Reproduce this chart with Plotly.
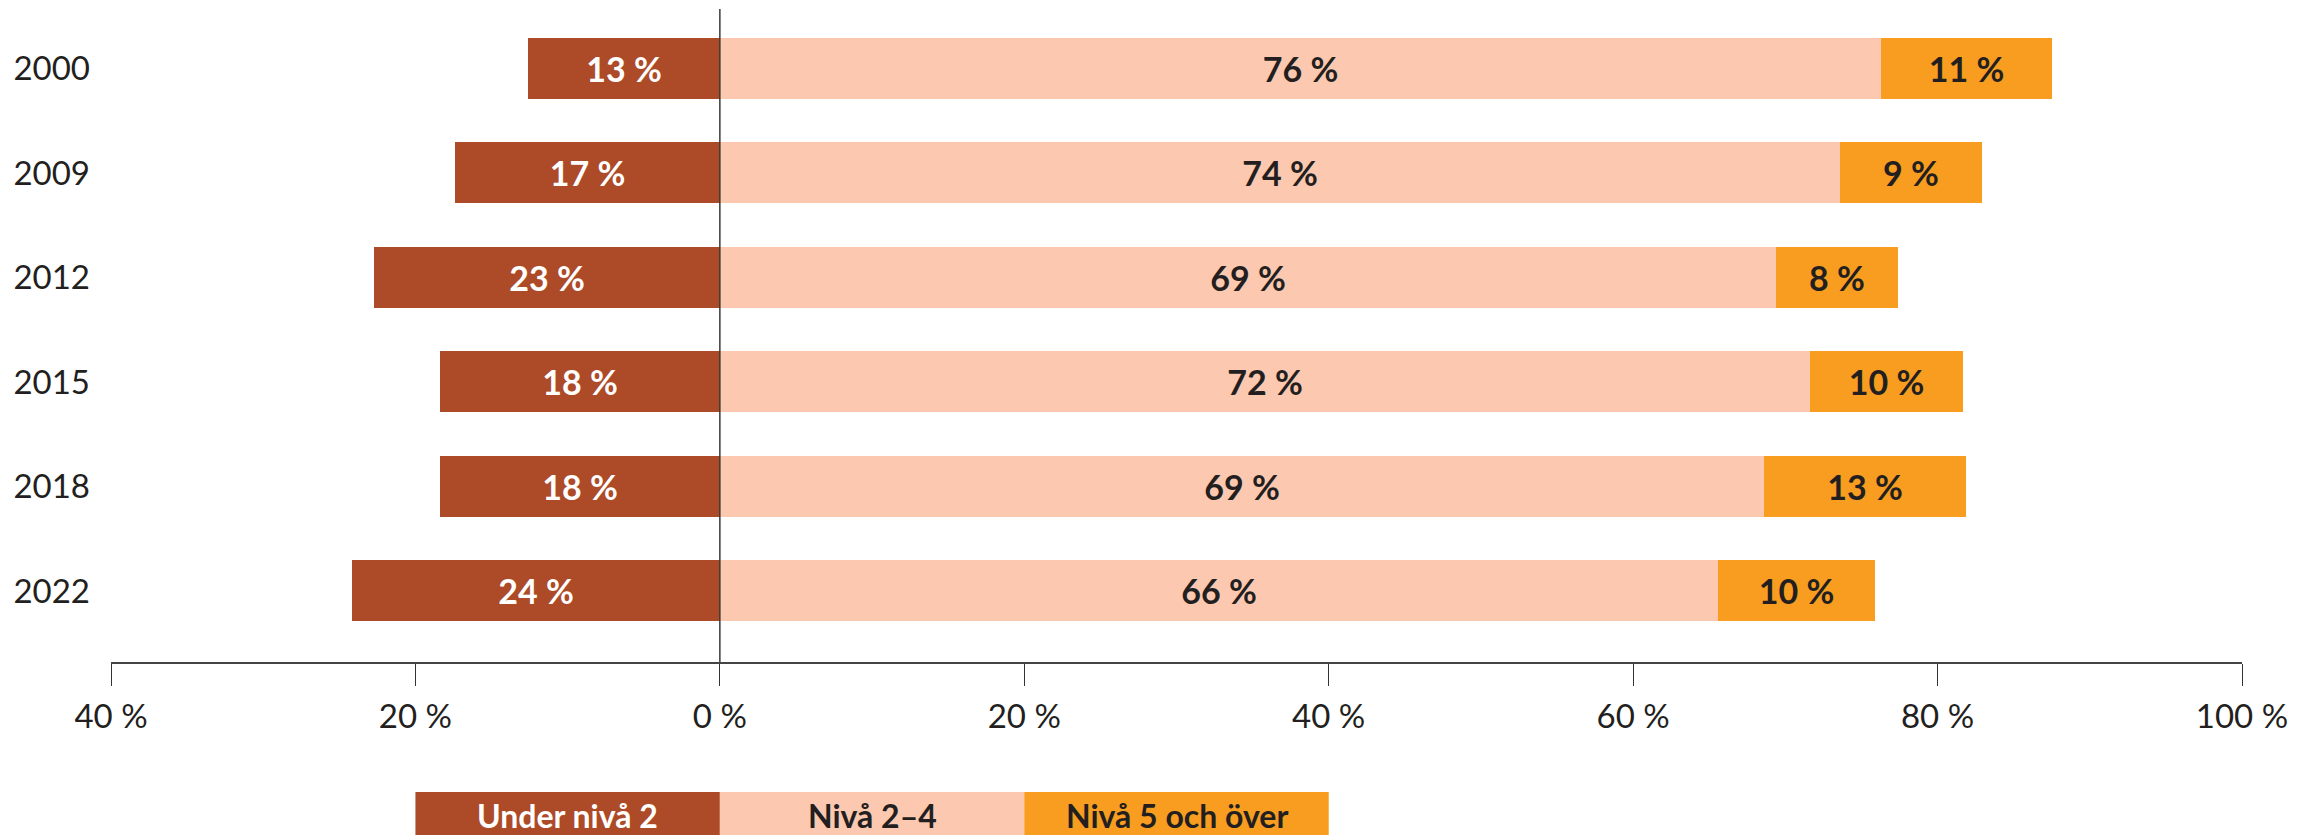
import plotly.graph_objects as go

# ---- data ----
years = ["2000", "2009", "2012", "2015", "2018", "2022"]
under_niva2 = [12.6, 17.4, 22.7, 18.4, 18.4, 24.2]
niva_2_4 = [76.3, 73.6, 69.4, 71.6, 68.6, 65.6]
niva_5_plus = [11.2, 9.3, 8.0, 10.1, 13.3, 10.3]
series_names = ["Under nivå 2", "Nivå 2–4", "Nivå 5 och över"]
tick_values = [-40, -20, 0, 20, 40, 60, 80, 100]
tick_labels = [f"{abs(v)} %" for v in tick_values]

# ---- styles ----
C_RED = "#AD4A27"
C_PINK = "#FCC8AF"
C_ORANGE = "#F89D1F"
C_TEXT = "#231F20"
FONT = "Lato"

def labels(vals):
    return [f"{round(v)} %" for v in vals]

fig = go.Figure()
fig.add_trace(go.Bar(
    y=years, x=[-v for v in under_niva2], orientation="h", name=series_names[0],
    marker=dict(color=C_RED, line=dict(width=0)), width=0.584,
    text=labels(under_niva2), textposition="inside", insidetextanchor="middle",
    textfont=dict(family=FONT, size=34, color="white", weight="bold"),
    textangle=0, hoverinfo="skip"))
fig.add_trace(go.Bar(
    y=years, x=niva_2_4, orientation="h", name=series_names[1],
    marker=dict(color=C_PINK, line=dict(width=0)), width=0.584,
    text=labels(niva_2_4), textposition="inside", insidetextanchor="middle",
    textfont=dict(family=FONT, size=34, color=C_TEXT, weight="bold"),
    textangle=0, hoverinfo="skip"))
fig.add_trace(go.Bar(
    y=years, x=niva_5_plus, orientation="h", name=series_names[2],
    marker=dict(color=C_ORANGE, line=dict(width=0)), width=0.584,
    text=labels(niva_5_plus), textposition="inside", insidetextanchor="middle",
    textfont=dict(family=FONT, size=34, color=C_TEXT, weight="bold"),
    textangle=0, hoverinfo="skip"))

# zero line above bars
fig.add_shape(type="line", xref="x", yref="paper", x0=0, x1=0, y0=0, y1=1,
              line=dict(color="#3a3a3a", width=1.5), layer="above")

# custom legend: boxes under the axis
legend_colors = [C_RED, C_PINK, C_ORANGE]
legend_text_colors = ["white", C_TEXT, C_TEXT]
legend_spans = [(-20, 0), (0, 20), (20, 40)]
for name, col, tcol, (a, b) in zip(series_names, legend_colors, legend_text_colors, legend_spans):
    fig.add_shape(type="rect", xref="x", yref="paper", x0=a, x1=b, y0=-0.268, y1=-0.199,
                  fillcolor=col, line=dict(width=0), layer="above")
    fig.add_annotation(xref="x", yref="paper", x=(a + b) / 2, y=-0.235, text=name,
                       showarrow=False, xanchor="center", yanchor="middle",
                       font=dict(family=FONT, size=32, color=tcol, weight="bold"))

fig.update_layout(
    width=2316, height=835,
    margin=dict(l=111, r=74, t=9, b=173, pad=0),
    barmode="relative", bargap=0,
    showlegend=False,
    plot_bgcolor="white", paper_bgcolor="white",
    font=dict(family=FONT, size=33, color=C_TEXT),
    uniformtext=dict(minsize=30, mode="show"),
    xaxis=dict(range=[-40, 100], tickvals=tick_values, ticktext=tick_labels,
               showgrid=False, zeroline=False, showline=True, linecolor="#444444",
               linewidth=2, ticks="outside", ticklen=22, tickwidth=1, tickcolor="#333333",
               ticklabelstandoff=2, tickfont=dict(family=FONT, size=33, color=C_TEXT),
               fixedrange=True),
    yaxis=dict(type="category", categoryorder="array", categoryarray=years,
               range=[5.68, -0.569], showgrid=False, zeroline=False, showline=False,
               ticks="", ticklabelstandoff=20,
               tickfont=dict(family=FONT, size=33, color=C_TEXT), fixedrange=True),
)

fig.write_html("out.html", config={"displayModeBar": False},
               post_script="document.body.style.margin='0';document.body.style.overflow='hidden';")
